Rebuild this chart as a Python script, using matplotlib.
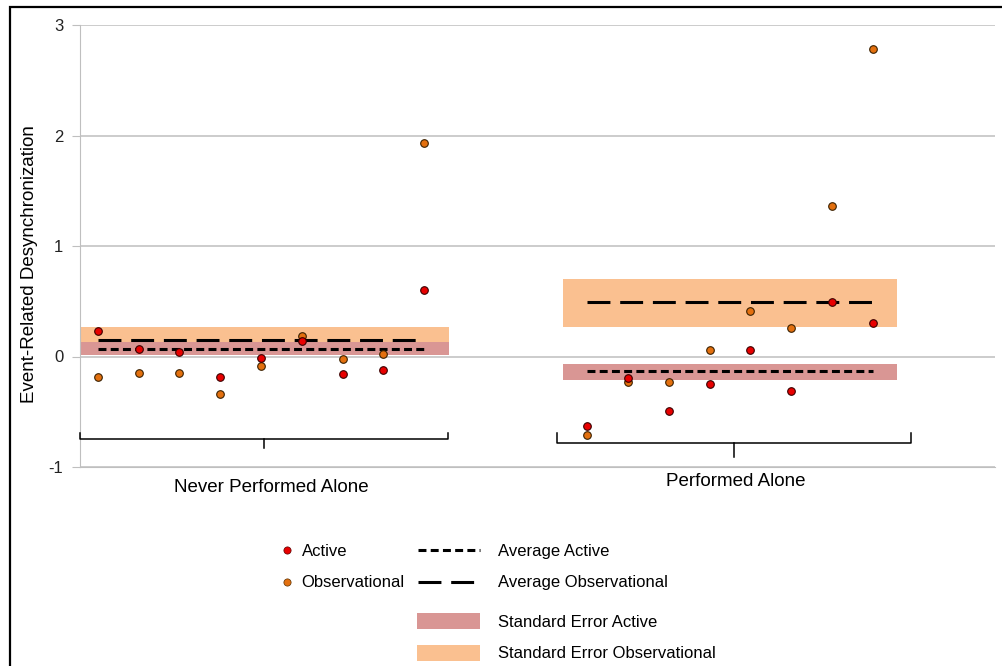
import numpy as np
import matplotlib
matplotlib.use("Agg")
import matplotlib.pyplot as plt
from matplotlib.lines import Line2D
from matplotlib.patches import Patch, Rectangle

plt.rcParams['font.family'] = ['Liberation Sans', 'DejaVu Sans']
plt.rcParams['axes.unicode_minus'] = False

# data
groups = ["Never Performed Alone", "Performed Alone"]
active_never = [0.23, 0.07, 0.045, -0.19, -0.01, 0.14, -0.155, -0.125, 0.605]
obs_never = [-0.19, -0.15, -0.145, -0.34, -0.085, 0.19, -0.025, 0.025, 1.93]
active_alone = [-0.63, -0.195, -0.49, -0.245, 0.06, -0.31, 0.49, 0.30]
obs_alone = [-0.71, -0.23, -0.23, 0.06, 0.41, 0.255, 1.36, 2.78]
avg_active = [0.072, -0.135]
avg_obs = [0.147, 0.49]
se_active_low = [0.012, -0.21]
se_active_high = [0.133, -0.066]
se_obs_low = [0.02, 0.27]
se_obs_high = [0.27, 0.70]

red = "#E80000"
orange = "#E3700F"
red_band = "#D99694"
orange_band = "#FAC090"

fig = plt.figure(figsize=(10.02, 6.66), dpi=100)
W, H = 1002, 666
ax = fig.add_axes([80 / W, 1 - 467 / H, 915 / W, 442 / H])

# x positions: one slot per participant, gap between the two groups
x_never = np.arange(1, len(active_never) + 1)
x_alone = np.arange(13, 13 + len(active_alone))
xs = [x_never, x_alone]
actives = [active_never, active_alone]
obss = [obs_never, obs_alone]

xmin, xmax = 0.56, 23.0
for i, x in enumerate(xs):
    b0 = max(x[0] - 0.6, xmin)
    b1 = x[-1] + 0.6
    ax.fill_between([b0, b1], se_obs_low[i], se_obs_high[i], color=orange_band,
                    lw=0, zorder=2)
    ax.fill_between([b0, b1], se_active_low[i], se_active_high[i], color=red_band,
                    lw=0, zorder=2.5)
    ax.plot([x[0], x[-1]], [avg_obs[i]] * 2, color="black", lw=2.2,
            dashes=(7.5, 3.2), zorder=3)
    ax.plot([x[0], x[-1]], [avg_active[i]] * 2, color="black", lw=2.2,
            dashes=(2.6, 1.4), zorder=3)
    ax.scatter(x, obss[i], s=30, color=orange, edgecolor="#3a2000", lw=0.8, zorder=4)
    ax.scatter(x, actives[i], s=30, color=red, edgecolor="#3a0000", lw=0.8, zorder=5)

# braces under each group
braces = [(0.56, 9.58, 5.07, -0.75, -0.83), (12.27, 20.95, 16.6, -0.785, -0.91)]
for x0, x1, xc, ym, yb in braces:
    ax.plot([x0, x0, x1, x1], [-0.69, ym, ym, -0.69], color="black", lw=1.1,
            zorder=3, clip_on=False)
    ax.plot([xc, xc], [ym, yb], color="black", lw=1.1, zorder=3, clip_on=False)

ax.text(5.25, -1.185, groups[0], ha="center", va="center", fontsize=13.5)
ax.text(16.65, -1.13, groups[1], ha="center", va="center", fontsize=13.5)

ax.set_xlim(xmin, xmax)
ax.set_ylim(-1, 3)
ax.set_yticks([-1, 0, 1, 2, 3])
ax.set_xticks([])
ax.grid(axis="y", color="#BFBFBF", lw=1.1, zorder=0)
ax.set_axisbelow(True)
for s in ["top", "right"]:
    ax.spines[s].set_visible(False)
ax.spines["left"].set_color("#BFBFBF")
ax.spines["bottom"].set_color("#BFBFBF")
ax.tick_params(axis="y", length=6, color="#BFBFBF", pad=6, labelsize=12,
               labelcolor="#222222")
ax.set_ylabel("Event-Related Desynchronization", fontsize=13.5)
ax.yaxis.set_label_coords(-0.046, 0.46)

# legends
fs = 12
h1 = [Line2D([], [], marker="o", ls="", color=red, markersize=5.2, mec="#5a0000", mew=0.5),
      Line2D([], [], marker="o", ls="", color=orange, markersize=5.2, mec="#5a3000", mew=0.5)]
fig.legend(h1, ["Active", "Observational"], loc="upper left",
           bbox_to_anchor=(280 / W, 1 - 544 / H), frameon=False, fontsize=fs,
           handlelength=0.83, handletextpad=0.46, borderpad=0, borderaxespad=0,
           labelspacing=0.98)
h2 = [Line2D([], [], color="black", lw=2.2, dashes=(2.6, 1.4)),
      Line2D([], [], color="black", lw=2.2, dashes=(7.5, 3.2))]
fig.legend(h2, ["Average Active", "Average Observational"], loc="upper left",
           bbox_to_anchor=(418 / W, 1 - 544 / H), frameon=False, fontsize=fs,
           handlelength=3.7, handletextpad=1.08, borderpad=0, borderaxespad=0,
           labelspacing=0.98)
h3 = [Patch(color=red_band, lw=0), Patch(color=orange_band, lw=0)]
fig.legend(h3, ["Standard Error Active", "Standard Error Observational"],
           loc="upper left", bbox_to_anchor=(417 / W, 1 - 613 / H), frameon=False,
           fontsize=fs, handlelength=3.77, handleheight=1.08, handletextpad=1.1,
           borderpad=0, borderaxespad=0, labelspacing=0.92)

# outer frame (left and top edges visible)
fig.patches.append(Rectangle((10 / W, -0.2), 1.2, 1.2 - 7 / H, transform=fig.transFigure,
                             fill=False, ec="black", lw=1.6))

fig.savefig("out.png", dpi=100)
